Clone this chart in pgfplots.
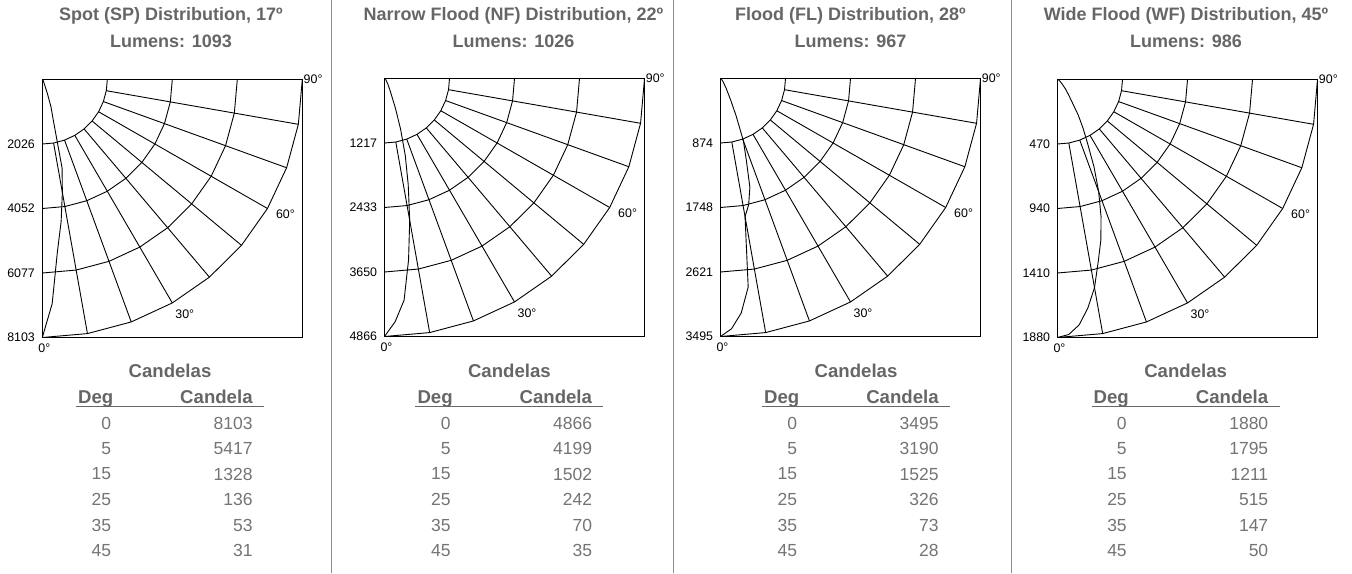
\documentclass[border=0pt]{standalone}
\usepackage{fontspec}
\setmainfont{Liberation Sans}
\usepackage{pgfplots}
\usepackage{pgfplotstable}
\pgfplotsset{compat=1.18}
\definecolor{txt}{HTML}{666666}
\definecolor{num}{HTML}{747474}
\definecolor{sep}{HTML}{8C8C8C}

\newcommand\ttl{\fontsize{9}{10}\selectfont\bfseries}
\newcommand\hdr{\fontsize{9.3}{11}\selectfont\bfseries}
\newcommand\nmb{\fontsize{8.75}{10}\selectfont}
\newcommand\sml{\fontsize{6.2}{7}\selectfont}

% candela distributions (deg, candela)
\pgfplotstableread{
deg cd
0 8103
2.5 7050
5 5417
7.5 4500
10 3600
12.5 2850
15 1328
17.5 900
20 450
25 136
30 85
35 53
40 40
45 31
50 25
60 15
70 8
80 4
90 0
}\curveSP
\pgfplotstableread{
deg cd
0 4866
2.5 4590
5 4199
7.5 3450
10 2716
12.5 2050
15 1502
17.5 1000
20 600
25 242
30 130
35 70
40 50
45 35
50 25
60 15
70 8
80 4
90 0
}\curveNF
\pgfplotstableread{
deg cd
0 3495
2.5 3394
5 3190
7.5 2850
10 1900
12.5 1750
15 1525
17.5 1150
20 900
22.5 550
25 326
30 150
35 73
40 45
45 28
50 20
60 12
70 6
80 3
90 0
}\curveFL
\pgfplotstableread{
deg cd
0 1880
2.5 1860
5 1795
7.5 1680
10 1540
12.5 1360
15 1211
17.5 1047
20 870
22.5 690
25 515
27.5 400
30 300
35 147
40 90
45 50
50 30
60 15
70 8
80 4
90 0
}\curveWF

\pgfplotsset{
  gridline/.style={black, line width=0.45pt, data cs=polar, mark=none, forget plot},
  polarbox/.style={
    scale only axis, width=130pt, height=129pt,
    axis line style={black, line width=0.55pt},
    xtick=\empty, major tick length=0pt,
    yticklabel style={font=\sml, inner sep=0pt, xshift=-3.5pt, text=black},
    clip=false, anchor=south west,
  },
}
\newcommand\ring[1]{\addplot[gridline] coordinates {(-90,#1)(-80,#1)(-70,#1)(-60,#1)(-50,#1)(-40,#1)(-30,#1)(-20,#1)(-10,#1)(0,#1)};}
\newcommand\polargrid[4]{%
  \ring{#1}\ring{#2}\ring{#3}\ring{#4}%
  \pgfplotsinvokeforeach{-80,-70,-60,-50,-40,-30,-20,-10}{\addplot[gridline] coordinates {(##1,#1)(##1,#4)};}%
}
\newcommand\anglelabels{%
  \node[font=\sml] at (rel axis cs:0.0077,-0.0426) {0°};
  \node[font=\sml] at (rel axis cs:0.548,0.0903) {30°};
  \node[font=\sml] at (rel axis cs:0.935,0.478) {60°};
  \node[font=\sml, anchor=west, inner sep=0pt] at (rel axis cs:1.004,1) {90°};
}
% title: #1 centre (px), #2 line 1, #3 line 2
\newcommand\paneltitle[3]{%
  \begin{scope}[shift={({#1*0.5pt},286.5pt)}, x=0.5pt, y=-0.5pt]
    \node[anchor=base, font=\ttl, text=txt, inner sep=0pt] at (0,20.7) {#2};
    \node[anchor=base, font=\ttl, text=txt, inner sep=0pt] at (0,47.7) {#3};
  \end{scope}}
% table: #1 centre (px), #2..#7 candela values
\newcommand\candtable[7]{%
  \begin{scope}[shift={({#1*0.5pt},286.5pt)}, x=0.5pt, y=-0.5pt]
    \node[anchor=base, font=\hdr, text=txt, inner sep=0pt] at (0,377.3) {Candelas};
    \node[anchor=base west, font=\hdr, text=txt, inner sep=0pt] at (-92.3,403.3) {Deg};
    \node[anchor=base east, font=\hdr, text=txt, inner sep=0pt] at (83,403.3) {Candela};
    \draw[txt, line width=0.75pt] (-94,406.7) -- (94,406.7);
    \foreach \d/\v/\y in {0/#2/423, 5/#3/448.5, 15/#4/474, 25/#5/499.5, 35/#6/525, 45/#7/550.5}{
      \node[anchor=east, font=\nmb, text=num, inner sep=0pt] at (-58.5,\y) {\d};
      \node[anchor=east, font=\nmb, text=num, inner sep=0pt] at (83,\y) {\v};
    }
  \end{scope}}

\begin{document}
\begin{tikzpicture}
\path[use as bounding box] (0,0) rectangle (676pt,286.5pt);

% separators
\foreach \sx in {331.7,673.3,1011.5}{
  \draw[sep, line width=0.5pt] ({\sx*0.5pt},0) -- ({\sx*0.5pt},286.5pt);
}

% ---- Panel 1: Spot ----
\begin{axis}[polarbox, at={(21.15pt,117.75pt)},
  xmin=0, xmax=8103, ymin=-8103, ymax=0,
  ytick={-8103,-6077.25,-4051.5,-2025.75}, yticklabels={8103,6077,4052,2026}]
  \polargrid{2025.75}{4051.5}{6077.25}{8103}
  \addplot[black, line width=0.45pt, mark=none, data cs=polar] table[x expr=\thisrow{deg}-90, y=cd] {\curveSP};
  \anglelabels
\end{axis}

% ---- Panel 2: Narrow Flood ----
\begin{axis}[polarbox, at={(192.25pt,118.25pt)},
  xmin=0, xmax=4866, ymin=-4866, ymax=0,
  ytick={-4866,-3649.5,-2433,-1216.5}, yticklabels={4866,3650,2433,1217}]
  \polargrid{1216.5}{2433}{3649.5}{4866}
  \addplot[black, line width=0.45pt, mark=none, data cs=polar] table[x expr=\thisrow{deg}-90, y=cd] {\curveNF};
  \anglelabels
\end{axis}

% ---- Panel 3: Flood ----
\begin{axis}[polarbox, at={(360.25pt,118.25pt)},
  xmin=0, xmax=3495, ymin=-3495, ymax=0,
  ytick={-3495,-2621.25,-1747.5,-873.75}, yticklabels={3495,2621,1748,874}]
  \polargrid{873.75}{1747.5}{2621.25}{3495}
  \addplot[black, line width=0.45pt, mark=none, data cs=polar] table[x expr=\thisrow{deg}-90, y=cd] {\curveFL};
  \anglelabels
\end{axis}

% ---- Panel 4: Wide Flood ----
\begin{axis}[polarbox, at={(528.75pt,117.75pt)},
  xmin=0, xmax=1880, ymin=-1880, ymax=0,
  ytick={-1880,-1410,-940,-470}, yticklabels={1880,1410,940,470}]
  \polargrid{470}{940}{1410}{1880}
  \addplot[black, line width=0.45pt, mark=none, data cs=polar] table[x expr=\thisrow{deg}-90, y=cd] {\curveWF};
  \anglelabels
\end{axis}

\paneltitle{171}{Spot (SP) Distribution, 17º}{Lumens: 1093}
\paneltitle{513.5}{Narrow Flood (NF) Distribution, 22º}{Lumens: 1026}
\paneltitle{850.5}{Flood (FL) Distribution, 28º}{Lumens: 967}
\paneltitle{1186}{Wide Flood (WF) Distribution, 45º}{Lumens: 986}

\candtable{170}{8103}{5417}{1328}{136}{53}{31}
\candtable{509.4}{4866}{4199}{1502}{242}{70}{35}
\candtable{856}{3495}{3190}{1525}{326}{73}{28}
\candtable{1185.6}{1880}{1795}{1211}{515}{147}{50}
\end{tikzpicture}
\end{document}
